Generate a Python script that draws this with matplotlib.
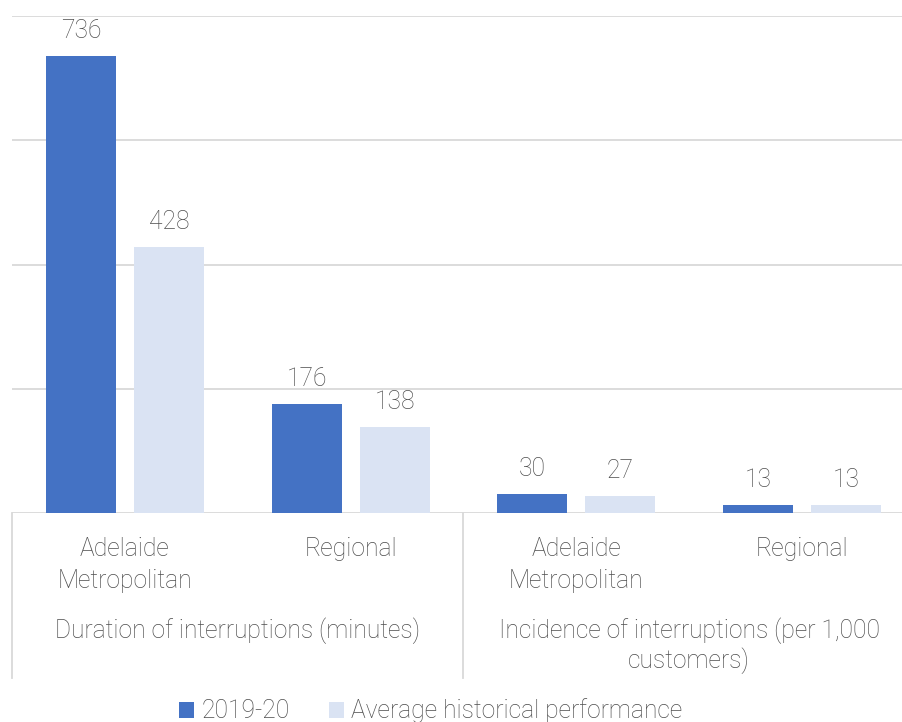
import matplotlib.pyplot as plt
from matplotlib.patches import Patch

plt.rcParams["font.family"] = ["Roboto", "DejaVu Sans"]
plt.rcParams["font.weight"] = "light"

categories = ["Adelaide\nMetropolitan", "Regional", "Adelaide\nMetropolitan", "Regional"]
groups = ["Duration of interruptions (minutes)",
          "Incidence of interruptions (per 1,000\ncustomers)"]
current = [736, 176, 30, 13]
historical = [428, 138, 27, 13]
series_names = ["2019-20", "Average historical performance"]

BLUE = "#4472C4"
LIGHT = "#DAE3F3"
GRID = "#D9D9D9"
TEXT = "#4D4D4D"
FS = 17.7

W, H = 902, 722
fig = plt.figure(figsize=(W / 100, H / 100), dpi=100)
# plot area: 0 sits at y=513 px, 800 at y=16 px; four slots of ~225.7 px from x=12
ax = fig.add_axes([12 / W, (H - 513) / H, 4 * 225.7 / W, 497 / H])

x = list(range(len(categories)))
width = 0.31
off = 0.195
b1 = ax.bar([i - off for i in x], current, width, color=BLUE)
b2 = ax.bar([i + off for i in x], historical, width, color=LIGHT)

for bars, vals in ((b1, current), (b2, historical)):
    for rect, v in zip(bars, vals):
        ax.annotate(f"{v}", (rect.get_x() + rect.get_width() / 2, v),
                    xytext=(0, 13), textcoords="offset points",
                    ha="center", va="baseline", fontsize=FS, color=TEXT)

ax.set_xlim(-0.5, 3.5)
ax.set_ylim(0, 800)
ax.set_yticks(range(0, 801, 200))
ax.set_yticklabels([])
ax.set_xticks([])
ax.tick_params(left=False)
ax.grid(axis="y", color=GRID, linewidth=1.3)
ax.set_axisbelow(True)
for s in ax.spines.values():
    s.set_visible(False)

tr = ax.get_xaxis_transform()
px = 1 / 497  # one pixel in axes-fraction units


def stacked_label(xpos, first_baseline, text, step):
    # one text per line so every baseline sits where we want it
    for k, line in enumerate(text.split("\n")):
        ax.text(xpos, -(first_baseline + step * k) * px, line, transform=tr,
                ha="center", va="baseline", fontsize=FS, color=TEXT)


for i, lab in enumerate(categories):
    stacked_label(i, 43, lab, 32)

for g, lab in enumerate(groups):
    stacked_label(2 * g + 0.5, 125, lab, 30)

# group separators below the axis
for xs in (-0.5, 1.5):
    ax.plot([xs, xs], [0, -165 * px], transform=tr, color=GRID,
            linewidth=1.3, clip_on=False)

handles = [Patch(facecolor=BLUE), Patch(facecolor=LIGHT)]
fig.legend(handles, series_names, loc="center", bbox_to_anchor=(431 / W, 1 - 711 / H),
           ncol=2, frameon=False, fontsize=FS, handlelength=0.6, handleheight=0.6,
           handletextpad=0.3, columnspacing=1.6, labelcolor=TEXT,
           borderpad=0, borderaxespad=0)

fig.savefig("out.png", dpi=100)
